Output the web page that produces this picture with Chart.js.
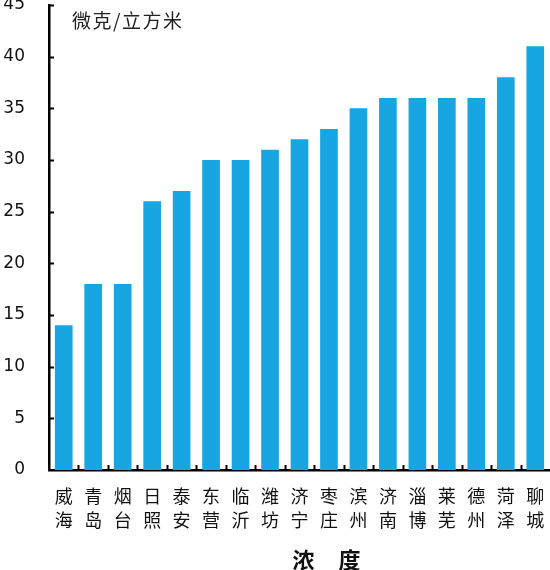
<!DOCTYPE html>
<html>
<head>
<meta charset="utf-8">
<script src="https://cdn.jsdelivr.net/npm/chart.js@4"></script>
<style>
  html, body { margin: 0; padding: 0; background: #fff; }
  #wrap { width: 550px; height: 570px; position: relative; }
</style>
</head>
<body>
<div id="wrap"><canvas id="plot"></canvas></div>
<script>
const CITY_LABELS = [
  ['威', '海'], ['青', '岛'], ['烟', '台'], ['日', '照'], ['泰', '安'], ['东', '营'],
  ['临', '沂'], ['潍', '坊'], ['济', '宁'], ['枣', '庄'], ['滨', '州'], ['济', '南'],
  ['淄', '博'], ['莱', '芜'], ['德', '州'], ['菏', '泽'], ['聊', '城']
];
const CONCENTRATION = [14, 18, 18, 26, 27, 30, 30, 31, 32, 33, 35, 36, 36, 36, 36, 38, 41];
const Y_RANGE = { min: 0, max: 45, step: 5 };
const UNIT_TEXT = '微克/立方米';
const AXIS_TITLE = '浓　度';

const BAR_COLOR = '#17a6e2';
const AXIS_COLOR = '#000';
const CJK_FONT = '"Noto Sans CJK SC", "Noto Sans", sans-serif';
const NUM_FONT = '"DejaVu Sans", sans-serif';

// inner tick marks, unit label and the bottom title
const decorPlugin = {
  id: 'decor',
  afterDraw(chart) {
    const { ctx, chartArea, scales } = chart;
    const x = scales.x;
    const y = scales.y;

    ctx.save();
    ctx.strokeStyle = AXIS_COLOR;
    ctx.lineWidth = 2;

    y.ticks.forEach((tick) => {
      if (tick.value === Y_RANGE.min) return;
      const py = Math.round(y.getPixelForValue(tick.value)) + 0.5;
      ctx.beginPath();
      ctx.moveTo(chartArea.left, py);
      ctx.lineTo(chartArea.left + 5, py);
      ctx.stroke();
    });

    for (let i = 0; i < CITY_LABELS.length - 1; i++) {
      const px = Math.round((x.getPixelForValue(i) + x.getPixelForValue(i + 1)) / 2) + 0.5;
      ctx.beginPath();
      ctx.moveTo(px, chartArea.bottom);
      ctx.lineTo(px, chartArea.bottom - 5);
      ctx.stroke();
    }

    ctx.fillStyle = '#222';
    ctx.font = `19px ${CJK_FONT}`;
    ctx.letterSpacing = '1.5px';
    ctx.textAlign = 'left';
    ctx.textBaseline = 'top';
    ctx.fillText(UNIT_TEXT, chartArea.left + 23, chartArea.top + 6);

    ctx.fillStyle = '#111';
    ctx.font = `bold 22px ${CJK_FONT}`;
    ctx.letterSpacing = '1px';
    ctx.textAlign = 'center';
    ctx.fillText(AXIS_TITLE, chartArea.left + chartArea.width * 0.555, 549);
    ctx.restore();
  }
};

new Chart(document.getElementById('plot').getContext('2d'), {
  type: 'bar',
  data: {
    labels: CITY_LABELS,
    datasets: [{
      data: CONCENTRATION,
      backgroundColor: BAR_COLOR,
      borderWidth: 0,
      barPercentage: 0.6,
      categoryPercentage: 1.0
    }]
  },
  options: {
    responsive: true,
    maintainAspectRatio: false,
    animation: false,
    layout: { padding: { top: 5, left: 0, right: 0, bottom: 0 } },
    plugins: {
      legend: { display: false },
      tooltip: { enabled: false }
    },
    scales: {
      x: {
        grid: { display: false, drawTicks: false },
        border: { display: true, color: AXIS_COLOR, width: 2.5 },
        ticks: {
          color: '#111',
          padding: 14,
          maxRotation: 0,
          autoSkip: false,
          font: { family: CJK_FONT, size: 18, lineHeight: 1.35 }
        },
        afterFit(scale) {
          scale.height = 100;
          scale.paddingLeft = 0;
          scale.paddingRight = 0;
        }
      },
      y: {
        min: Y_RANGE.min,
        max: Y_RANGE.max,
        grid: { display: false, drawTicks: false },
        border: { display: true, color: AXIS_COLOR, width: 2.5 },
        ticks: {
          stepSize: Y_RANGE.step,
          color: '#111',
          padding: 24,
          font: { family: NUM_FONT, size: 17 }
        },
        afterFit(scale) {
          scale.width = 49;
          scale.paddingTop = 0;
          scale.paddingBottom = 0;
        }
      }
    }
  },
  plugins: [decorPlugin]
});
</script>
</body>
</html>
